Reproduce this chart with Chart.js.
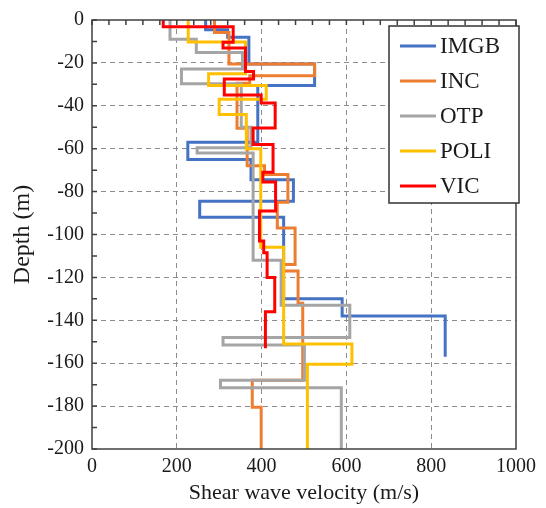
<!DOCTYPE html>
<html lang="en">
<head>
<meta charset="UTF-8">
<script src="https://cdn.jsdelivr.net/npm/chart.js@4.4.0/dist/chart.umd.min.js"></script>
<title>Shear wave velocity profiles</title>
<style>
  body { margin: 0; background: #fff; }
</style>
</head>
<body>
<canvas id="chart1" width="546" height="508"></canvas>
<script>

// layer boundaries (m, downwards) and velocity of each layer (m/s)
var imgbDepth = [0, 4.5, 8, 20.5, 30.5, 57, 65, 74.5, 84.5, 92, 130, 138, 157];
var imgbVs = [268, 320, 370, 525, 391, 226, 375, 475, 254, 452, 590, 833];

var incDepth = [0, 5.8, 20.5, 26, 29.5, 50.5, 68, 72, 85, 97, 114, 117, 132, 168, 180.5, 200];
var incVs = [289, 323, 525, 372, 342, 366, 407, 462, 437, 479, 450, 486, 497, 378, 399];

var otpDepth = [0, 9, 15.2, 22.8, 29.7, 50, 59.5, 62, 112, 133, 148, 151.5, 168, 171.5, 200];
var otpVs = [184, 246, 355, 211, 352, 375, 248, 380, 446, 608, 309, 501, 303, 588];

var poliDepth = [0, 10.2, 25, 30.5, 37, 44, 60, 106, 151, 160.5, 200];
var poliVs = [227, 362, 275, 411, 300, 364, 398, 452, 613, 508];

var vicDepth = [0, 3.2, 10.4, 13, 24, 27.5, 35, 38.7, 50.3, 58, 71, 75.5, 89, 103, 108.5, 120, 136, 153];
var vicVs = [168, 333, 309, 362, 381, 312, 399, 432, 380, 427, 403, 433, 395, 405, 413, 431, 409];

var names = ['IMGB', 'INC', 'OTP', 'POLI', 'VIC'];
var colores = ['#4472C4', '#ED7D31', '#A5A5A5', '#FFC000', '#FF0000'];

var xTicks = [0, 200, 400, 600, 800, 1000];
var yTicks = [0, -20, -40, -60, -80, -100, -120, -140, -160, -180, -200];

var serif = "'Liberation Serif', 'Times New Roman', serif";

function stepPoints(depth, vs) {
    var pts = [];
    vs.forEach(function (v, i) {
        pts.push({ x: v, y: -depth[i] });
        pts.push({ x: v, y: -depth[i + 1] });
    });
    return pts;
}

var profiles = [
    stepPoints(imgbDepth, imgbVs),
    stepPoints(incDepth, incVs),
    stepPoints(otpDepth, otpVs),
    stepPoints(poliDepth, poliVs),
    stepPoints(vicDepth, vicVs)
];

var datasets = profiles.map(function (pts, i) {
    return {
        label: names[i],
        data: pts,
        showLine: true,
        borderColor: colores[i],
        backgroundColor: colores[i],
        borderWidth: 3,
        pointRadius: 0,
        tension: 0,
        order: names.length - i   // VIC drawn on top
    };
});

// box, inward minor ticks and the legend inside the plot
var frame = {
    id: 'frame',
    afterDraw(chart) {
        var ctx = chart.ctx, a = chart.chartArea;
        var xs = chart.scales.x, ys = chart.scales.y;
        ctx.save();
        ctx.strokeStyle = '#404040';
        ctx.lineWidth = 1.5;
        ctx.strokeRect(a.left, a.top, a.right - a.left, a.bottom - a.top);

        ctx.beginPath();
        for (var d = 0; d <= 200; d += 10) {
            var py = ys.getPixelForValue(-d);
            ctx.moveTo(a.left, py);
            ctx.lineTo(a.left + 5, py);
        }
        for (var v = 0; v <= 1000; v += 40) {
            var px = xs.getPixelForValue(v);
            ctx.moveTo(px, a.top);
            ctx.lineTo(px, a.top + 5);
        }
        ctx.stroke();

        // legend
        var lx = 389, ly = 26, lw = 130, lh = 177;
        ctx.fillStyle = '#fff';
        ctx.fillRect(lx, ly, lw, lh);
        ctx.strokeStyle = '#333';
        ctx.lineWidth = 1.5;
        ctx.strokeRect(lx, ly, lw, lh);
        ctx.font = '23px ' + serif;
        ctx.textBaseline = 'middle';
        ctx.textAlign = 'left';
        names.forEach(function (n, i) {
            var y = ly + 20 + i * 35;
            ctx.strokeStyle = colores[i];
            ctx.lineWidth = 3;
            ctx.beginPath();
            ctx.moveTo(lx + 11, y);
            ctx.lineTo(lx + 47, y);
            ctx.stroke();
            ctx.fillStyle = '#1a1a1a';
            ctx.fillText(n, lx + 51, y + 1);
        });
        ctx.restore();
    }
};

var ctx = document.getElementById('chart1').getContext('2d');
var myChart = new Chart(ctx, {
    type: 'scatter',
    data: { datasets: datasets },
    plugins: [frame],
    options: {
        responsive: false,
        animation: false,
        layout: { padding: { left: 0, right: 30, top: 13, bottom: 0 } },
        plugins: { legend: { display: false }, tooltip: { enabled: false } },
        scales: {
            x: {
                type: 'linear',
                min: 0,
                max: 1000,
                afterBuildTicks: function (s) { s.ticks = xTicks.map(function (v) { return { value: v }; }); },
                afterFit: function (s) { s.height = 59; },
                ticks: {
                    color: '#1a1a1a',
                    font: { family: serif, size: 20 },
                    padding: 6,
                    callback: function (v) { return String(v); }
                },
                grid: {
                    drawTicks: false,
                    lineWidth: 1,
                    color: function (c) {
                        var v = c.tick && c.tick.value;
                        return (v > 0 && v < 1000) ? '#8c8c8c' : 'rgba(0,0,0,0)';
                    }
                },
                border: { display: false, dash: [5, 4] },
                title: {
                    display: true,
                    text: 'Shear wave velocity (m/s)',
                    color: '#1a1a1a',
                    font: { family: serif, size: 22 },
                    padding: { top: 2, bottom: 2 }
                }
            },
            y: {
                type: 'linear',
                min: -200,
                max: 0,
                afterBuildTicks: function (s) { s.ticks = yTicks.map(function (v) { return { value: v }; }); },
                afterFit: function (s) { s.width = 92; },
                ticks: {
                    color: '#1a1a1a',
                    font: { family: serif, size: 20 },
                    padding: 8,
                    callback: function (v) { return String(v); }
                },
                grid: {
                    drawTicks: false,
                    lineWidth: 1,
                    color: function (c) {
                        var v = c.tick && c.tick.value;
                        return (v < 0 && v > -200) ? '#8c8c8c' : 'rgba(0,0,0,0)';
                    }
                },
                border: { display: false, dash: [5, 4] },
                title: {
                    display: true,
                    text: 'Depth (m)',
                    color: '#1a1a1a',
                    font: { family: serif, size: 24 },
                    padding: { top: 8, bottom: 0 }
                }
            }
        }
    }
});

</script>
</body>
</html>
